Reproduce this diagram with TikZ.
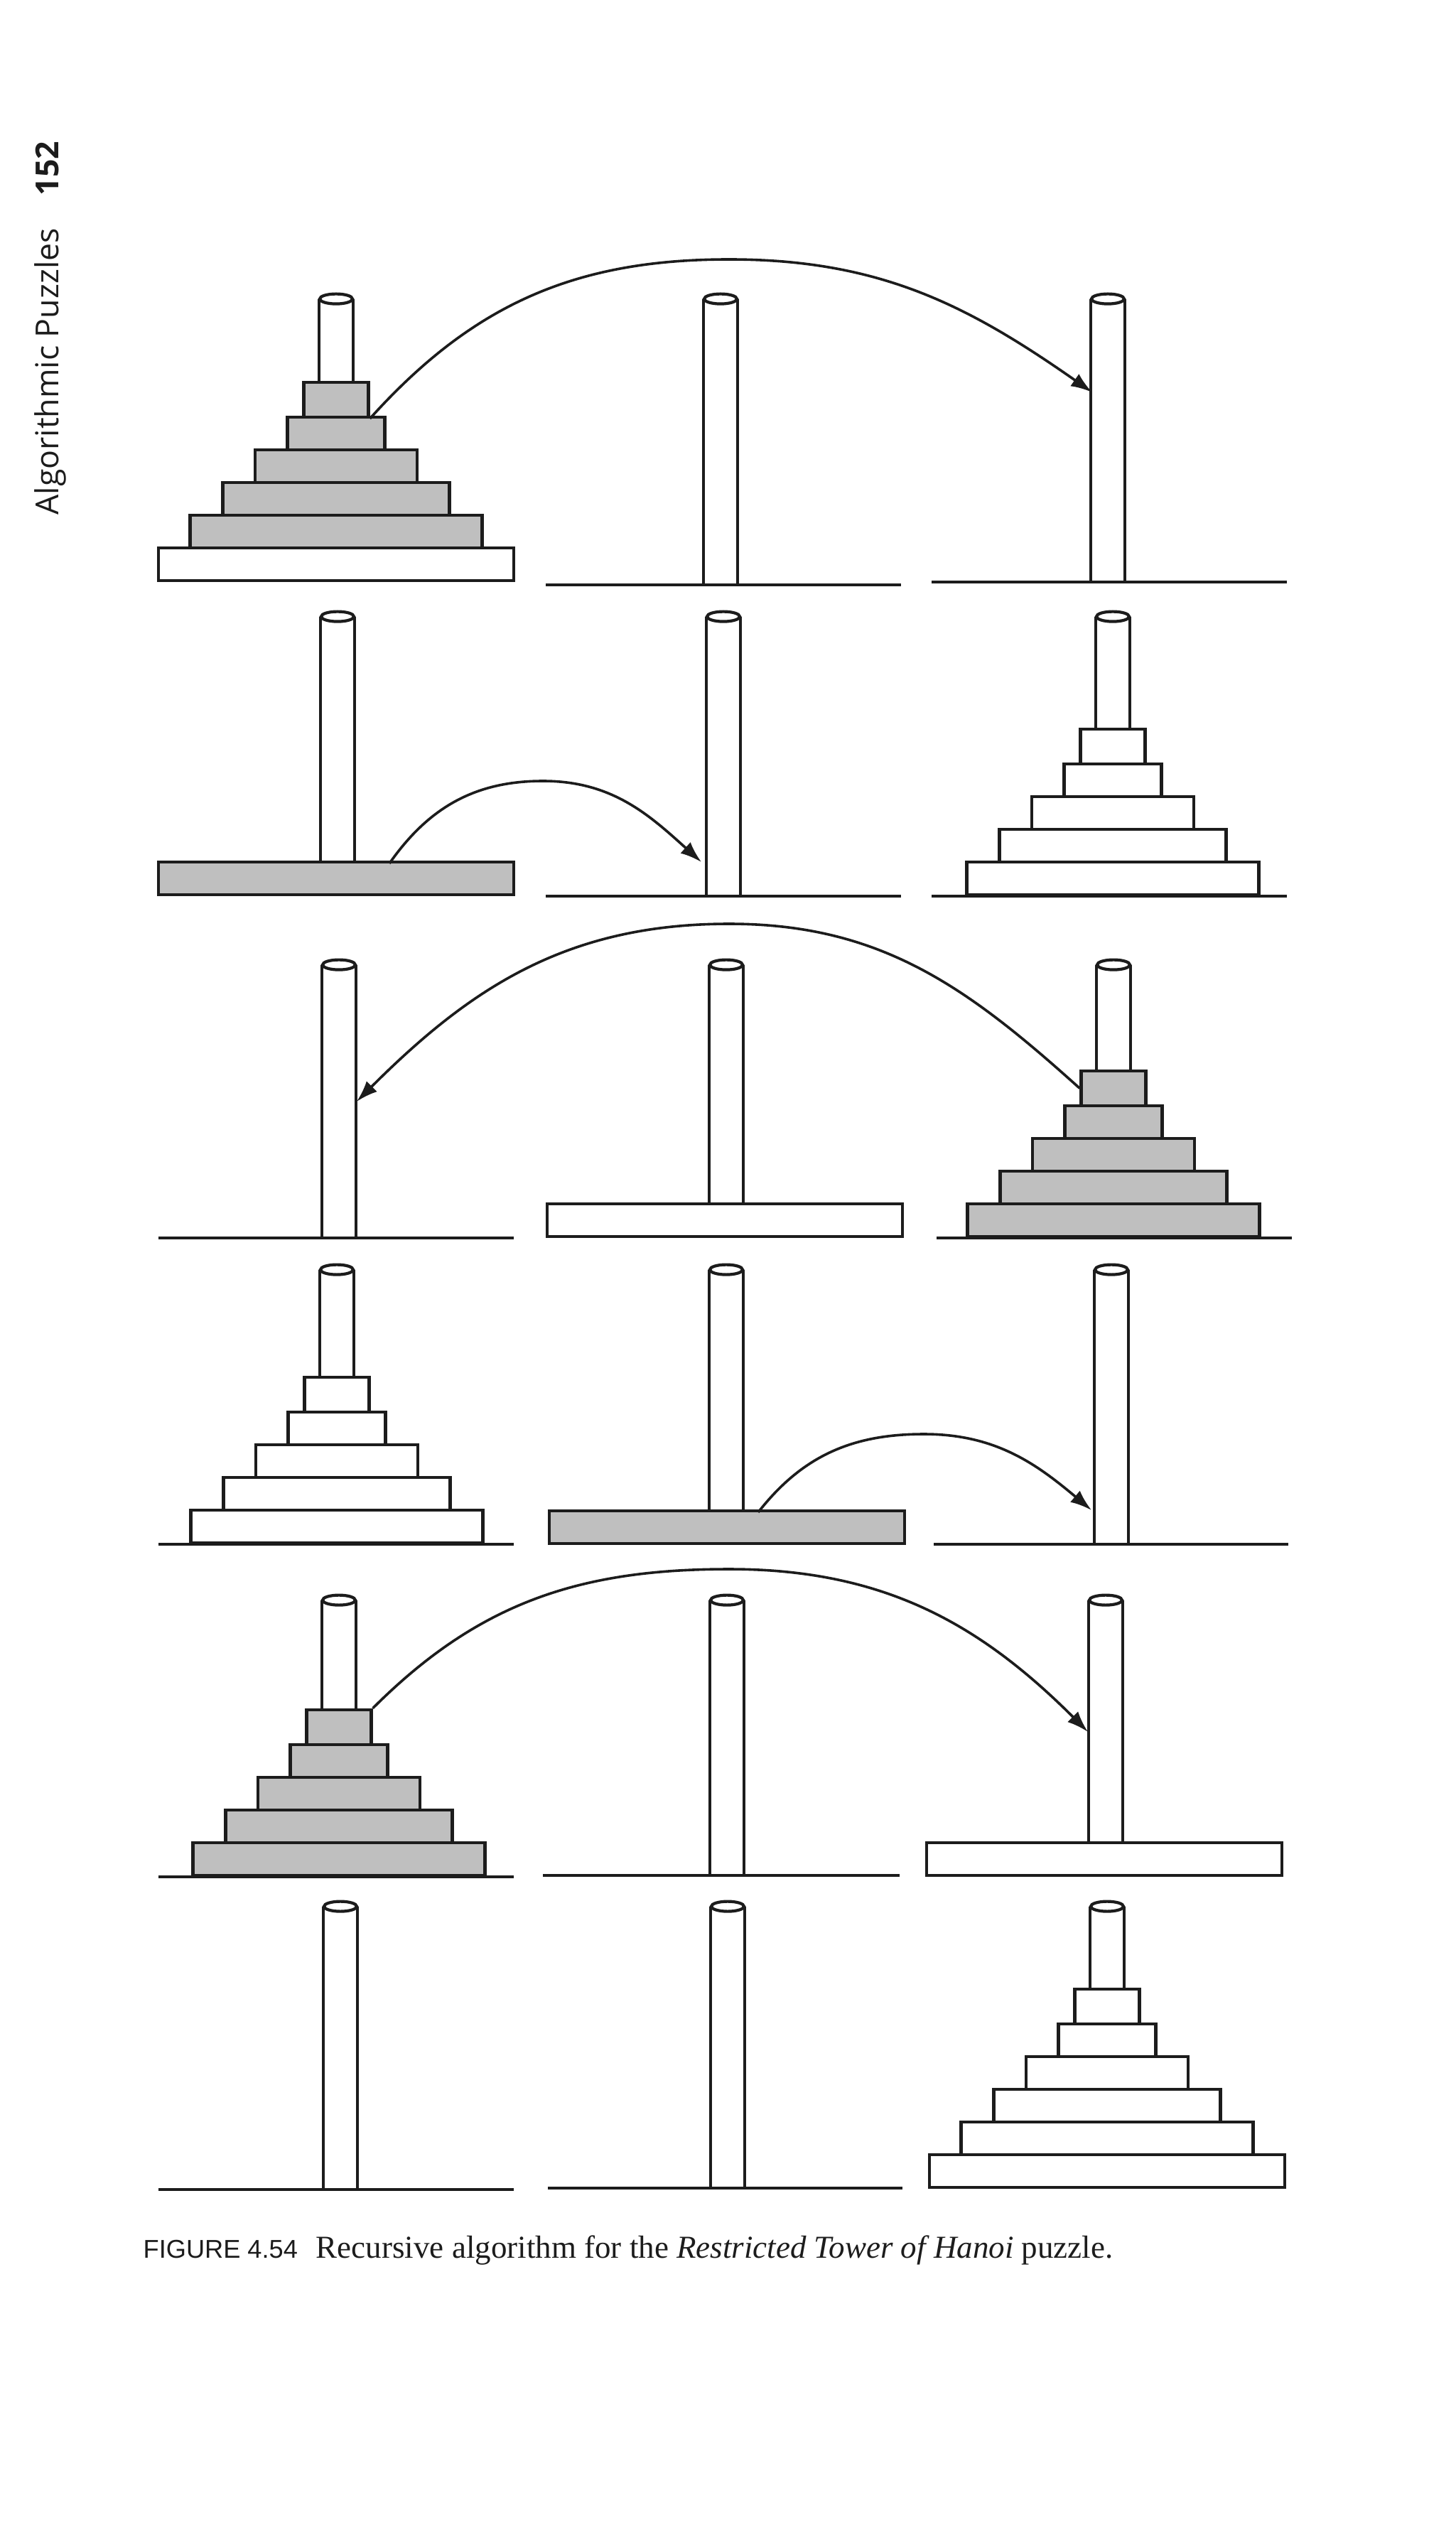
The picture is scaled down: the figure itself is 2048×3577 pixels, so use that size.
\documentclass[tikz,border=0pt]{standalone}
\usepackage{fontspec}
\setmainfont{Liberation Serif}
\newfontfamily\sidefont{Open Sans}
\newfontfamily\capsans{Liberation Sans}
\usetikzlibrary{arrows.meta}
\definecolor{ink}{RGB}{28,28,28}
\definecolor{diskgray}{RGB}{191,191,191}
\tikzset{
  tdisk/.style={draw=ink, line width=0.42mm, rectangle, inner sep=0pt, anchor=south},
  graydisk/.style={tdisk, fill=diskgray},
  whitedisk/.style={tdisk, fill=white},
  pegbody/.style={fill=white, inner sep=0pt, minimum width=4.6mm, anchor=south, rectangle},
  groundline/.style={draw=ink, line width=0.42mm},
  pegline/.style={draw=ink, line width=0.42mm},
  movearrow/.style={draw=ink, line width=0.36mm, -{Latex[length=3mm,width=2.1mm]}}
}
\newcommand\pegat[4]{% name, cx, top y, bottom y
  \node[pegbody, minimum height={(#4-#3)*0.1mm}] (#1) at (#2,#4) {};
  \draw[pegline] (#1.south west) -- (#1.north west) (#1.north east) -- (#1.south east);
  \draw[pegline, fill=white] (#1.north) ellipse [x radius=23, y radius=7];
}
\newcommand\fivestack[4]{% prefix, cx, bottom y, style
  \foreach \w [count=\i from 0] in {411,319,228,137} {
    \node[#4, minimum width=\w*0.1mm, minimum height=4.6mm] (#1d\i) at (#2,{#3-46*\i}) {};
  }
  \node[#4, minimum width=9.1mm, minimum height=4.9mm] (#1top) at (#2,{#3-184}) {};
}
\newcommand\bigdisk[4]{% name, cx, bottom y, style
  \node[#4, minimum width=50mm, minimum height=4.6mm] (#1) at (#2,#3) {};
}
\begin{document}
\begin{tikzpicture}[x=0.1mm,y=-0.1mm]
\useasboundingbox (0,0) rectangle (2048,3577);

% ---------- Row 1
\pegat{p1a}{473}{422}{819}
\pegat{p1b}{1014}{422}{823}
\pegat{p1c}{1559}{422}{819}
\draw[groundline] (768,823) -- (1268,823);
\draw[groundline] (1311,819) -- (1811,819);
\bigdisk{r1big}{473}{819}{whitedisk}
\fivestack{r1}{473}{773}{graydisk}

% ---------- Row 2
\pegat{p2a}{475}{869}{1261}
\pegat{p2b}{1018}{869}{1261}
\pegat{p2c}{1566}{869}{1261}
\draw[groundline] (768,1261) -- (1268,1261);
\draw[groundline] (1311,1261) -- (1811,1261);
\bigdisk{r2big}{473}{1261}{graydisk}
\fivestack{r2}{1566}{1261}{whitedisk}

% ---------- Row 3
\pegat{p3a}{477}{1359}{1742}
\pegat{p3b}{1022}{1359}{1742}
\pegat{p3c}{1567}{1359}{1742}
\draw[groundline] (223,1742) -- (723,1742);
\draw[groundline] (1318,1742) -- (1818,1742);
\bigdisk{r3big}{1020}{1742}{whitedisk}
\fivestack{r3}{1567}{1742}{graydisk}

% ---------- Row 4
\pegat{p4a}{474}{1788}{2173}
\pegat{p4b}{1022}{1788}{2174}
\pegat{p4c}{1564}{1788}{2173}
\draw[groundline] (223,2173) -- (723,2173);
\draw[groundline] (1314,2173) -- (1813,2173);
\fivestack{r4}{474}{2173}{whitedisk}
\bigdisk{r4big}{1023}{2174}{graydisk}

% ---------- Row 5
\pegat{p5a}{477}{2253}{2641}
\pegat{p5b}{1023}{2253}{2639}
\pegat{p5c}{1556}{2253}{2641}
\draw[groundline] (223,2641) -- (723,2641);
\draw[groundline] (764,2639) -- (1266,2639);
\fivestack{r5}{477}{2641}{graydisk}
\bigdisk{r5big}{1554}{2641}{whitedisk}

% ---------- Row 6
\pegat{p6a}{479}{2684}{3081}
\pegat{p6b}{1024}{2684}{3079}
\pegat{p6c}{1558}{2684}{3080}
\draw[groundline] (223,3081) -- (723,3081);
\draw[groundline] (771,3079) -- (1270,3079);
\bigdisk{r6big}{1558}{3080}{whitedisk}
\fivestack{r6}{1558}{3034}{whitedisk}

% ---------- Moves
\coordinate (k1) at (1026,365);
\coordinate (e1) at (1537,552);
\draw[movearrow] (r1top.south east) to[out=48,in=180] (k1) to[out=0,in=145] (e1);

\coordinate (s2) at (548,1215);
\coordinate (k2) at (764,1099);
\coordinate (e2) at (987,1213);
\draw[movearrow] (s2) to[out=55,in=180] (k2) to[out=0,in=138] (e2);

\coordinate (k3) at (1026,1300);
\coordinate (e3) at (502,1550);
\draw[movearrow] (r3top.west) to[out=138,in=0] (k3) to[out=180,in=45] (e3);

\coordinate (s4) at (1067,2128);
\coordinate (k4) at (1300,2018);
\coordinate (e4) at (1536,2125);
\draw[movearrow] (s4) to[out=52,in=180] (k4) to[out=0,in=140] (e4);

\coordinate (k5) at (1026,2208);
\coordinate (e5) at (1531,2437);
\draw[movearrow] (r5top.north east) to[out=45,in=180] (k5) to[out=0,in=135] (e5);

% ---------- Texts
\node[rotate=90, anchor=base west, inner sep=0pt, text=ink] (side) at (82,725)
  {\sidefont\fontsize{12.7}{15}\selectfont Algorithmic Puzzles\hspace{4.6mm}\textbf{152}};
\node[anchor=base west, inner sep=0pt, text=ink] (cap) at (201,3177)
  {{\capsans\fontsize{10.3}{12}\selectfont FIGURE 4.54}\hspace{2.6mm}{\fontsize{12.8}{15}\selectfont Recursive algorithm for the \textit{Restricted Tower of Hanoi} puzzle.}};
\end{tikzpicture}
\end{document}
